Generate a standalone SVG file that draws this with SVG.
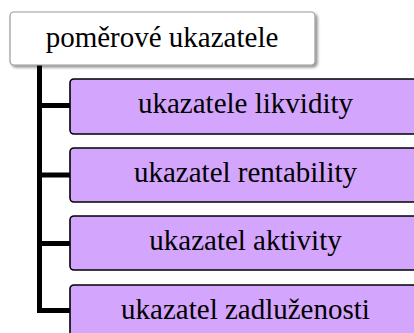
<svg xmlns="http://www.w3.org/2000/svg" width="414" height="333" viewBox="0 0 414 333">
  <defs>
    <filter id="sh" x="-10%" y="-20%" width="120%" height="150%">
      <feGaussianBlur in="SourceAlpha" stdDeviation="1.5"/>
      <feOffset dx="1.5" dy="2" result="b"/>
      <feComponentTransfer><feFuncA type="linear" slope="0.45"/></feComponentTransfer>
      <feMerge><feMergeNode/><feMergeNode in="SourceGraphic"/></feMerge>
    </filter>
  </defs>
  <style>
    .root { fill: #ffffff; stroke: #9a9a9a; stroke-width: 1.2; }
    .child { fill: #d4a5fd; stroke: #000000; stroke-width: 1.6; }
    .conn { fill: none; stroke: #000000; stroke-width: 5; stroke-linejoin: miter; }
    .t { font-family: 'Liberation Serif', 'Times New Roman', serif; font-size: 29px; fill: #000000; text-anchor: middle; }
  </style>
  <rect width="414" height="333" fill="#ffffff"/>
  <g id="connectors">
    <path class="conn" d="M39.5,65 V310.5 H70"/>
    <path class="conn" d="M39.5,105.5 H70"/>
    <path class="conn" d="M39.5,175 H70"/>
    <path class="conn" d="M39.5,243.5 H70"/>
  </g>
  <g id="root">
    <rect class="root" x="10" y="12" width="305" height="53" rx="4" filter="url(#sh)"/>
    <text class="t" x="162" y="47">poměrové ukazatele</text>
  </g>
  <g id="n1">
    <rect class="child" x="70" y="79" width="352" height="55" rx="4"/>
    <text class="t" x="245.5" y="113">ukazatele likvidity</text>
  </g>
  <g id="n2">
    <rect class="child" x="70" y="148" width="352" height="54" rx="4"/>
    <text class="t" x="245.5" y="182">ukazatel rentability</text>
  </g>
  <g id="n3">
    <rect class="child" x="70" y="216" width="352" height="54" rx="4"/>
    <text class="t" x="245.5" y="250">ukazatel aktivity</text>
  </g>
  <g id="n4">
    <rect class="child" x="70" y="285" width="352" height="55" rx="4"/>
    <text class="t" x="245.5" y="319">ukazatel zadluženosti</text>
  </g>
</svg>
